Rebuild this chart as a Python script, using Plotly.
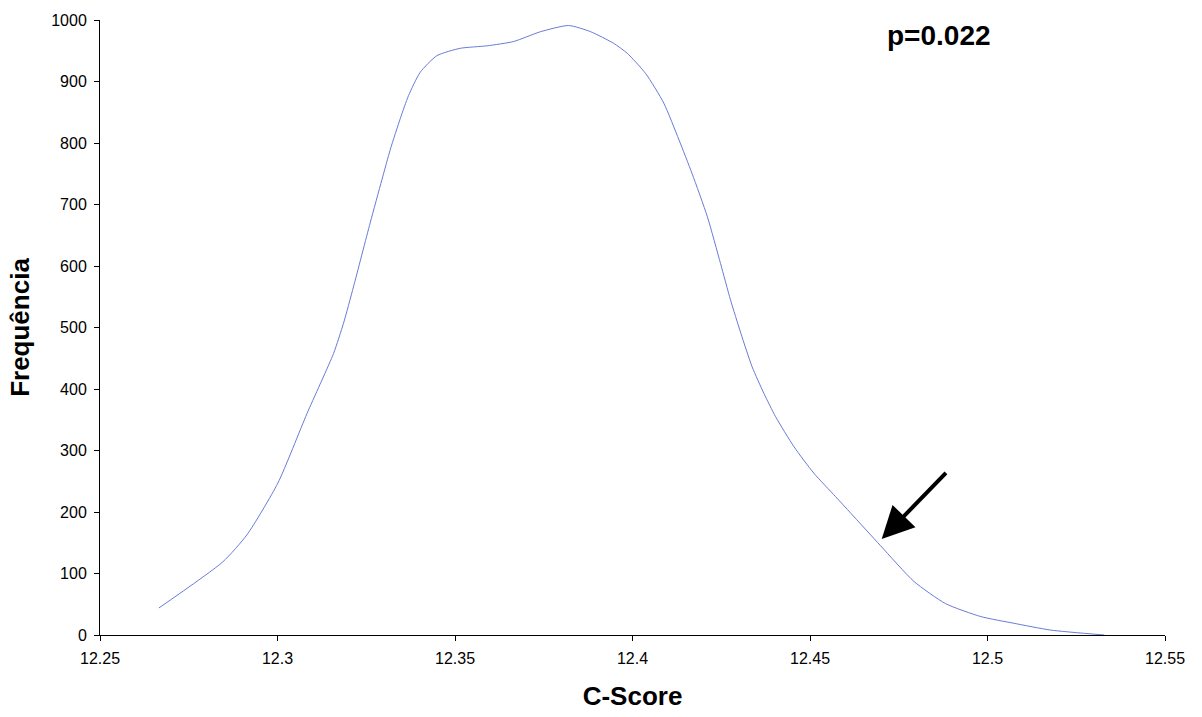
import plotly.graph_objects as go

# C-Score values (x) and frequencies (y)
c_score = [12.2666, 12.2846, 12.2914, 12.3001, 12.3083, 12.3158,
           12.3186, 12.3214, 12.3261, 12.3294, 12.3318, 12.3346, 12.3369, 12.3402,
           12.3449, 12.3515, 12.3590, 12.3665, 12.3741, 12.3820, 12.3882, 12.3947,
           12.3985, 12.4037, 12.4088, 12.4131, 12.4168, 12.4211, 12.4248, 12.4276,
           12.4305, 12.4337, 12.4370, 12.4403, 12.4455, 12.4511, 12.4572, 12.4615,
           12.4699, 12.4793, 12.4882, 12.4981, 12.5075, 12.5178, 12.5329]
frequencia = [44, 119, 163, 247, 360, 458,
              507, 566, 670, 740, 790, 840, 877, 915,
              942, 954, 958, 965, 981, 991, 981, 962,
              946, 913, 865, 805, 750, 680, 604, 545,
              491, 436, 393, 355, 306, 263, 225, 198,
              145, 87, 51, 30, 19, 8, 0]

x_ticks = [12.25, 12.3, 12.35, 12.4, 12.45, 12.5, 12.55]
x_tick_labels = ["12.25", "12.3", "12.35", "12.4", "12.45", "12.5", "12.55"]
y_ticks = [0, 100, 200, 300, 400, 500, 600, 700, 800, 900, 1000]

p_label = "p=0.022"
arrow_tip = (12.4702, 156)
arrow_tail = (12.4887, 266)

FONT = "Liberation Sans, Arial, sans-serif"

fig = go.Figure()
fig.add_trace(go.Scatter(
    x=c_score, y=frequencia, mode="lines",
    line=dict(color="#6a7bd6", width=1, shape="spline", smoothing=0.6),
    showlegend=False, hoverinfo="x+y",
))

fig.add_annotation(
    x=arrow_tip[0], y=arrow_tip[1], xref="x", yref="y",
    ax=arrow_tail[0], ay=arrow_tail[1], axref="x", ayref="y",
    showarrow=True, arrowhead=2, arrowsize=1.6, arrowwidth=4, arrowcolor="black",
    text="",
)
fig.add_annotation(
    x=0.788, y=0.974, xref="paper", yref="paper",
    text="<b>" + p_label + "</b>", showarrow=False,
    font=dict(family=FONT, size=28, color="black"),
    xanchor="center", yanchor="middle",
)

fig.update_layout(
    width=1202, height=717,
    margin=dict(l=100, r=37, t=20, b=82),
    paper_bgcolor="white", plot_bgcolor="white",
    font=dict(family=FONT, size=16, color="black"),
    xaxis=dict(
        range=[12.25, 12.55], tickvals=x_ticks, ticktext=x_tick_labels,
        showgrid=False, zeroline=False, showline=True, linecolor="black", linewidth=1,
        ticks="outside", ticklen=5, tickcolor="black", ticklabelstandoff=4,
        title=dict(text="<b>C-Score</b>", font=dict(family=FONT, size=26), standoff=20),
    ),
    yaxis=dict(
        range=[0, 1000], tickvals=y_ticks,
        showgrid=False, zeroline=False, showline=True, linecolor="black", linewidth=1,
        ticks="outside", ticklen=5, tickcolor="black", ticklabelstandoff=4,
        title=dict(text="<b>Frequência</b>", font=dict(family=FONT, size=26), standoff=14),
    ),
)

fig.write_html("out.html")
